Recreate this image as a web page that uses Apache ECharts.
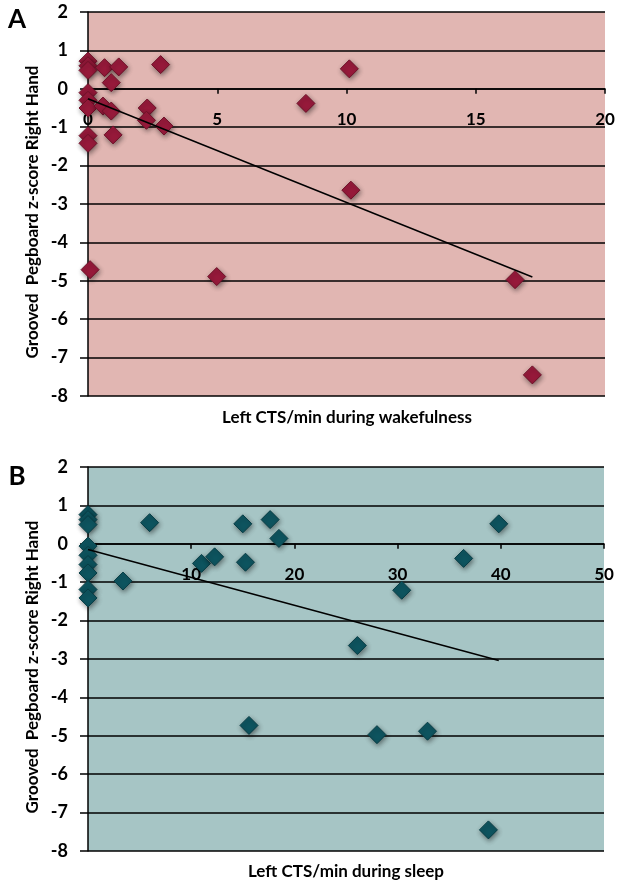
<!DOCTYPE html>
<html><head><meta charset="utf-8">
<script src="https://cdn.jsdelivr.net/npm/echarts@6/dist/echarts.min.js"></script>
<style>html,body{margin:0;padding:0;background:#fff}#c{width:624px;height:885px}</style>
</head><body><div id="c"></div>
<script>
// Panel A: Left CTS/min during wakefulness vs z-score
const wakeX = [0, 0, 0, 0.64, 1.19, 0.9, 2.81, 0, 0, 0, 0.58, 0.9, 2.29, 2.26, 2.94, 0, 0.97, 0, 8.43, 10.11, 10.17, 0.08, 4.98, 16.52, 17.19];
const wakeY = [0.72, 0.6, 0.48, 0.55, 0.57, 0.16, 0.63, -0.1, -0.3, -0.5, -0.45, -0.58, -0.5, -0.82, -0.97, -1.22, -1.2, -1.42, -0.38, 0.52, -2.64, -4.71, -4.89, -4.97, -7.45];
const wakeTrendX = [0, 17.19];
const wakeTrendY = [-0.26, -4.9];
// Panel B: Left CTS/min during sleep vs z-score
const sleepX = [0, 0, 0, 5.97, 15.0, 17.65, 18.5, 0, 0, 0, 0, 11.0, 12.27, 15.26, 3.39, 0, 0, 39.8, 36.4, 30.4, 26.1, 15.6, 28.0, 32.9, 38.8];
const sleepY = [0.76, 0.63, 0.5, 0.55, 0.52, 0.63, 0.14, -0.06, -0.3, -0.54, -0.76, -0.51, -0.34, -0.48, -0.97, -1.19, -1.41, 0.52, -0.38, -1.21, -2.65, -4.73, -4.97, -4.88, -7.45];
const sleepTrendX = [0, 39.8];
const sleepTrendY = [-0.15, -3.04];
const xTicksA = {min: 0, max: 20, interval: 5};
const xTicksB = {min: 0, max: 50, interval: 10};
const yTicks = {min: -8, max: 2, interval: 1};
const yTitle = 'Grooved  Pegboard z-score Right Hand';
const xTitleA = 'Left CTS/min during wakefulness';
const xTitleB = 'Left CTS/min during sleep';

const zip = (xs, ys) => xs.map((x, i) => [x, ys[i]]);
const FONT = 'Lato';
const GRID_H = 384;
// x axis crosses at y = 0: shift it up from the grid bottom by the share of the y range below zero
const zeroOffset = -GRID_H * (0 - yTicks.min) / (yTicks.max - yTicks.min);
const chart = echarts.init(document.getElementById('c'), null, {renderer: 'canvas'});

function xAxis(idx, t) {
  return {
    type: 'value', gridIndex: idx, min: t.min, max: t.max, interval: t.interval,
    position: 'bottom', offset: zeroOffset,
    axisLine: {onZero: false, lineStyle: {color: '#000', width: 1.5}},
    axisTick: {show: true, length: 5, lineStyle: {color: '#000', width: 1.5}},
    axisLabel: {color: '#000', fontFamily: FONT, fontWeight: 'bold', fontSize: 17, margin: 22},
    splitLine: {show: false}
  };
}
function yAxis(idx) {
  return {
    type: 'value', gridIndex: idx, min: yTicks.min, max: yTicks.max, interval: yTicks.interval,
    axisLine: {show: true, onZero: false, lineStyle: {color: '#000', width: 1.5}},
    axisTick: {show: true, length: 8, lineStyle: {color: '#000', width: 1.5}},
    axisLabel: {color: '#000', fontFamily: FONT, fontWeight: 'bold', fontSize: 18, margin: 20},
    splitLine: {show: true, lineStyle: {color: '#000', width: 1.5}}
  };
}
function scatter(idx, data, color, border) {
  return {
    type: 'scatter', xAxisIndex: idx, yAxisIndex: idx, data: data,
    symbol: 'diamond', symbolSize: [18, 18],
    itemStyle: {color: color, borderColor: border, borderWidth: 1, opacity: 1,
      shadowBlur: 5, shadowColor: 'rgba(0,0,0,0.45)', shadowOffsetX: 1, shadowOffsetY: 2},
    z: 3, silent: true
  };
}
function trend(idx, data) {
  return {
    type: 'line', xAxisIndex: idx, yAxisIndex: idx, data: data, symbol: 'none',
    lineStyle: {color: '#000', width: 1.5}, z: 4, silent: true
  };
}
function txt(x, y, text, size, rot) {
  return {type: 'text', x: x, y: y, rotation: rot || 0,
    style: {text: text, fill: '#000', font: 'bold ' + size + 'px ' + FONT, align: 'center', verticalAlign: 'middle'}};
}

chart.setOption({
  animation: false,
  grid: [
    {left: 88, top: 12, width: 517, height: GRID_H, show: true, backgroundColor: '#E1B6B2', borderWidth: 0},
    {left: 88, top: 467, width: 516, height: GRID_H, show: true, backgroundColor: '#A6C5C5', borderWidth: 0}
  ],
  xAxis: [xAxis(0, xTicksA), xAxis(1, xTicksB)],
  yAxis: [yAxis(0), yAxis(1)],
  series: [
    scatter(0, zip(wakeX, wakeY), '#981A3B', '#6E1128'),
    trend(0, zip(wakeTrendX, wakeTrendY)),
    scatter(1, zip(sleepX, sleepY), '#0E5560', '#083D45'),
    trend(1, zip(sleepTrendX, sleepTrendY))
  ],
  graphic: [
    txt(17, 20, 'A', 26),
    txt(17, 477, 'B', 26),
    txt(33, 212, yTitle, 17, Math.PI / 2),
    txt(33, 667, yTitle, 17, Math.PI / 2),
    txt(347, 418, xTitleA, 17),
    txt(346, 872, xTitleB, 17)
  ]
});
</script></body></html>
